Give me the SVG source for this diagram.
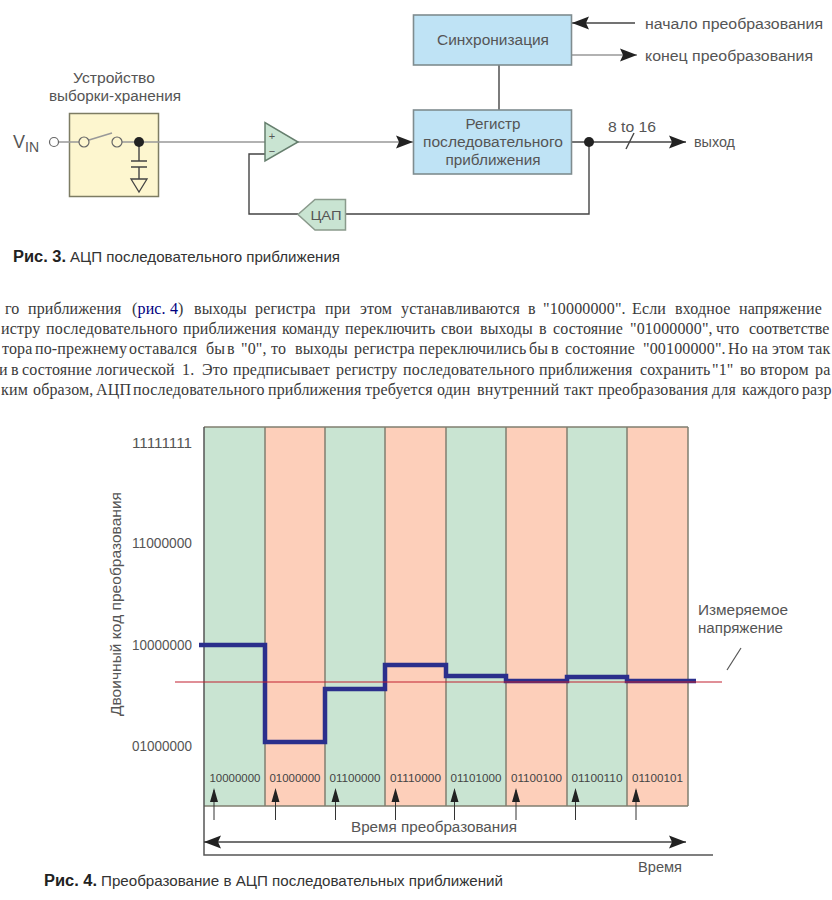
<svg xmlns="http://www.w3.org/2000/svg" width="832" height="900" viewBox="0 0 832 900">
<defs>
<marker id="ah" markerUnits="userSpaceOnUse" markerWidth="18" markerHeight="14" refX="17" refY="7" orient="auto-start-reverse"><path d="M0 0.500L17 7L0 13.500L3 7Z" fill="#222"/></marker>
</defs>
<style>
text{font-family:"Liberation Sans",Arial,sans-serif;fill:#555;font-size:14px}
.c{text-anchor:middle}
.r{text-anchor:end}
.p{font-family:"Liberation Serif","Times New Roman",serif;font-size:16px;fill:#3a3a3a;letter-spacing:0.15px}
.b{font-size:11px;text-anchor:middle;fill:#444}
.cap{font-weight:bold;fill:#222;font-size:16px}
.capt{fill:#333;font-size:15px}
.w{fill:none;stroke:#444;stroke-width:1.400}
.g{fill:none;stroke:#999;stroke-width:1.600}
.blue{fill:#bfe3f5;stroke:#7f8c8f;stroke-width:1.600}
.gc{fill:#c9e4d2}
.oc{fill:#fdcfba}
.v{stroke:#807f70;stroke-width:1.500;fill:none}
.t{letter-spacing:0}
</style>
<g id="sample-hold">
<rect x="69.500" y="113.500" width="89" height="83" fill="#fdf6cf" stroke="#7d7c63" stroke-width="1.500"/>
<text x="114" y="83" class="c" textLength="82" lengthAdjust="spacingAndGlyphs">Устройство</text>
<text x="115" y="101" class="c" textLength="132" lengthAdjust="spacingAndGlyphs">выборки-хранения</text>
</g>
<g id="connectors">
<path class="g" d="M59 142H79M122 142H265"/>
<path class="g" d="M572 55H637" marker-end="url(#ah)"/>
<path class="g" d="M89 140L112 133"/>
<path class="g" d="M298 142H413" marker-end="url(#ah)"/>
<path class="w" d="M139 142V161M131 161H147M131 167H147M139 167V179"/>
<path class="w" d="M635 23H572" marker-end="url(#ah)"/>
<path class="w" d="M499 65V110"/>
<path class="w" d="M572 142H686" marker-end="url(#ah)"/>
<path class="w" d="M626 149L634 133"/>
<path class="w" d="M589 142V214H345M298 214H249V154H265"/>
<circle cx="589" cy="142" r="5" fill="#222"/>
<circle cx="139" cy="142" r="5" fill="#222"/>
<path d="M131 179H147L139 192Z" fill="none" stroke="#444" stroke-width="1.300"/>
</g>
<g id="vin"><text x="13" y="148" style="font-size:18px">V<tspan dy="4" style="font-size:14px">IN</tspan></text><circle cx="54" cy="142" r="4.500" fill="#fff" stroke="#666" stroke-width="1.200"/></g>
<g id="switch"><circle cx="84" cy="142" r="5" fill="#fdf6cf" stroke="#666" stroke-width="1.200"/><circle cx="117" cy="142" r="5" fill="#fdf6cf" stroke="#666" stroke-width="1.200"/></g>
<g id="comparator"><path d="M265 122.500V161L298 142Z" fill="#c9e4d2" stroke="#667f6e" stroke-width="1.500"/><text x="272" y="140" class="c" style="font-size:11px">+</text><text x="272" y="155" class="c" style="font-size:11px">−</text></g>
<g id="sync"><rect class="blue" x="413.500" y="15" width="158" height="50"/><text x="493" y="45" class="c" textLength="112" lengthAdjust="spacingAndGlyphs">Синхронизация</text></g>
<g id="register"><rect class="blue" x="413.500" y="110" width="158" height="64"/><text x="493" y="129" class="c" textLength="55" lengthAdjust="spacingAndGlyphs">Регистр</text><text x="493" y="147" class="c" textLength="140" lengthAdjust="spacingAndGlyphs">последовательного</text><text x="493" y="165" class="c" textLength="95" lengthAdjust="spacingAndGlyphs">приближения</text></g>
<g id="dac"><path d="M345.500 199.500V230H315L298 214.500L315 199.500Z" fill="#c9e4d2" stroke="#8a9a8c" stroke-width="1.500"/><text x="326" y="220" class="c" style="font-size:12.500px" textLength="31" lengthAdjust="spacingAndGlyphs">ЦАП</text></g>
<g id="signal-labels">
<text x="645" y="29" textLength="178" lengthAdjust="spacingAndGlyphs">начало преобразования</text>
<text x="645" y="61" textLength="168" lengthAdjust="spacingAndGlyphs">конец преобразования</text>
<text x="608" y="132" textLength="48" lengthAdjust="spacingAndGlyphs">8 to 16</text>
<text x="694" y="147" textLength="41" lengthAdjust="spacingAndGlyphs">выход</text>
</g>
<g id="caption3"><text x="13" y="262" class="cap" textLength="53" lengthAdjust="spacingAndGlyphs">Рис. 3.</text><text x="70" y="262" class="capt" textLength="270" lengthAdjust="spacingAndGlyphs">АЦП последовательного приближения</text></g>
<g id="paragraph">
<text class="p" y="314"><tspan x="5">го</tspan><tspan x="28">приближения</tspan><tspan x="132">(</tspan><tspan style="fill:#00007f">рис. 4</tspan><tspan>)</tspan><tspan x="194">выходы</tspan><tspan x="255">регистра</tspan><tspan x="325">при</tspan><tspan x="360">этом</tspan><tspan x="401">устанавливаются</tspan><tspan x="528">в</tspan><tspan x="543">"10000000".</tspan><tspan x="632">Если</tspan><tspan x="675">входное</tspan><tspan x="739">напряжение</tspan></text>
<text class="p" y="334"><tspan x="1">истру</tspan><tspan x="46">последовательного</tspan><tspan x="183">приближения</tspan><tspan x="282">команду</tspan><tspan x="345">переключить</tspan><tspan x="441">свои</tspan><tspan x="480">выходы</tspan><tspan x="539">в</tspan><tspan x="553">состояние</tspan><tspan x="630">"01000000",</tspan><tspan x="716">что</tspan><tspan x="749" class="t">соответстве</tspan></text>
<text class="p" y="354"><tspan x="2">тора</tspan><tspan x="35">по-прежнему</tspan><tspan x="129">оставался</tspan><tspan x="206">бы</tspan><tspan x="227">в</tspan><tspan x="241">"0",</tspan><tspan x="271">то</tspan><tspan x="295">выходы</tspan><tspan x="354">регистра</tspan><tspan x="419">переключились</tspan><tspan x="529">бы</tspan><tspan x="551">в</tspan><tspan x="565">состояние</tspan><tspan x="643">"00100000".</tspan><tspan x="728">Но</tspan><tspan x="752">на</tspan><tspan x="772">этом</tspan><tspan x="808">так</tspan></text>
<text class="p" y="375"><tspan x="-1">и</tspan><tspan x="11">в</tspan><tspan x="22">состояние</tspan><tspan x="96">логической</tspan><tspan x="182">1.</tspan><tspan x="202">Это</tspan><tspan x="233">предписывает</tspan><tspan x="336">регистру</tspan><tspan x="403">последовательного</tspan><tspan x="539">приближения</tspan><tspan x="640">сохранить</tspan><tspan x="712">"1"</tspan><tspan x="740">во</tspan><tspan x="760">втором</tspan><tspan x="815">ра</tspan></text>
<text class="p" y="395"><tspan x="1">ким</tspan><tspan x="33">образом,</tspan><tspan x="96">АЦП</tspan><tspan x="133">последовательного</tspan><tspan x="268">приближения</tspan><tspan x="365">требуется</tspan><tspan x="437">один</tspan><tspan x="477">внутренний</tspan><tspan x="564">такт</tspan><tspan x="598">преобразования</tspan><tspan x="712">для</tspan><tspan x="742">каждого</tspan><tspan x="802" class="t">разр</tspan></text>
</g>
<g id="chart-columns">
<rect class="gc" x="204" y="427" width="61" height="379"/><rect class="oc" x="265" y="427" width="60" height="379"/><rect class="gc" x="325" y="427" width="60" height="379"/><rect class="oc" x="385" y="427" width="61" height="379"/><rect class="gc" x="446" y="427" width="60" height="379"/><rect class="oc" x="506" y="427" width="61" height="379"/><rect class="gc" x="567" y="427" width="60" height="379"/><rect class="oc" x="627" y="427" width="61" height="379"/>
<path class="v" d="M265 427V806M325 427V806M385 427V806M446 427V806M506 427V806M567 427V806M627 427V806M688 427V806M204 427H688M204 806H688"/>
<path d="M204 427V855H713" fill="none" stroke="#555" stroke-width="1.500"/>
</g>
<g id="bits">
<text class="b" x="235" y="782" textLength="51" lengthAdjust="spacingAndGlyphs">10000000</text><text class="b" x="295" y="782" textLength="51" lengthAdjust="spacingAndGlyphs">01000000</text><text class="b" x="355" y="782" textLength="51" lengthAdjust="spacingAndGlyphs">01100000</text><text class="b" x="415.500" y="782" textLength="51" lengthAdjust="spacingAndGlyphs">01110000</text><text class="b" x="476" y="782" textLength="51" lengthAdjust="spacingAndGlyphs">01101000</text><text class="b" x="536.500" y="782" textLength="51" lengthAdjust="spacingAndGlyphs">01100100</text><text class="b" x="597" y="782" textLength="51" lengthAdjust="spacingAndGlyphs">01100110</text><text class="b" x="657.500" y="782" textLength="51" lengthAdjust="spacingAndGlyphs">01100101</text>
</g>
<g id="clock-arrows" fill="#222" stroke="#333" stroke-width="1">
<path d="M214 820V790M275.500 820V790M335.500 820V790M395.500 820V790M454.500 820V790M516 820V790M575.500 820V790M636 820V790"/>
<path d="M214 788l-4 14h8zM275.500 788l-4 14h8zM335.500 788l-4 14h8zM395.500 788l-4 14h8zM454.500 788l-4 14h8zM516 788l-4 14h8zM575.500 788l-4 14h8zM636 788l-4 14h8z" stroke="none"/>
</g>
<g id="axis-labels">
<text x="192" y="448" class="r" textLength="60" lengthAdjust="spacingAndGlyphs">11111111</text>
<text x="192" y="548" class="r" textLength="60" lengthAdjust="spacingAndGlyphs">11000000</text>
<text x="192" y="650" class="r" textLength="60" lengthAdjust="spacingAndGlyphs">10000000</text>
<text x="192" y="751" class="r" textLength="60" lengthAdjust="spacingAndGlyphs">01000000</text>
<text transform="translate(121 604) rotate(-90)" class="c" textLength="224" lengthAdjust="spacingAndGlyphs">Двоичный код преобразования</text>
<text x="434" y="832" class="c" textLength="166" lengthAdjust="spacingAndGlyphs">Время преобразования</text>
<text x="660" y="872" class="c" textLength="44" lengthAdjust="spacingAndGlyphs">Время</text>
<text x="698" y="615" textLength="90" lengthAdjust="spacingAndGlyphs">Измеряемое</text>
<text x="698" y="633" textLength="85" lengthAdjust="spacingAndGlyphs">напряжение</text>
</g>
<g id="traces">
<path d="M199 645H265V742H325V689H385V665H446V676H506V681H567V677H627V681H696" fill="none" stroke="#2b2f8c" stroke-width="4.500"/>
<path d="M175 682H722" fill="none" stroke="#c22030" stroke-width="1.200"/>
<path d="M741 648L727 670" fill="none" stroke="#555" stroke-width="1.200"/>
<path d="M204 842H686" fill="none" stroke="#444" stroke-width="1.400" marker-start="url(#ah)" marker-end="url(#ah)"/>
</g>
<g id="caption4"><text x="44" y="886" class="cap" textLength="53" lengthAdjust="spacingAndGlyphs">Рис. 4.</text><text x="101" y="886" class="capt" textLength="402" lengthAdjust="spacingAndGlyphs">Преобразование в АЦП последовательных приближений</text></g>
</svg>
